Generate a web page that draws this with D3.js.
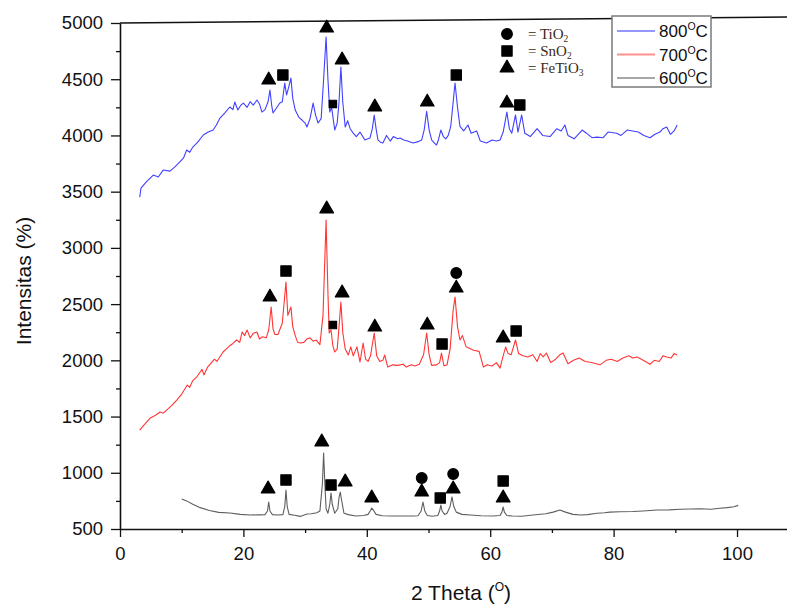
<!DOCTYPE html>
<html>
<head>
<meta charset="utf-8">
<script src="https://cdn.jsdelivr.net/npm/d3@7"></script>
<style>
  html, body { margin: 0; padding: 0; background: #fff; }
  svg { display: block; font-family: "Liberation Sans", Arial, sans-serif; }
</style>
</head>
<body>
<svg id="chart" width="787" height="605"></svg>
<script>
// ---------------- DATA ----------------
const xTicks = [0, 20, 40, 60, 80, 100];
const xMinorTicks = [10, 30, 50, 70, 90];
const yTicks = [500, 1000, 1500, 2000, 2500, 3000, 3500, 4000, 4500, 5000];
const yMinorTicks = [750, 1250, 1750, 2250, 2750, 3250, 3750, 4250, 4750];

const seriesNames = ["800", "700", "600"];

const s800 = [[3.2,3452],[3.4,3532],[4.3,3590],[5.4,3648],[6.2,3630],[7.0,3692],[8.1,3683],[8.9,3720],[9.7,3764],[10.3,3800],[10.8,3870],[11.3,3850],[11.8,3897],[12.6,3940],[13.5,4004],[14.3,4030],[15.1,4048],[15.6,4090],[16.2,4155],[17.0,4200],[17.8,4253],[18.3,4230],[18.6,4297],[19.1,4226],[19.6,4270],[20.0,4288],[20.6,4250],[21.1,4300],[21.6,4270],[22.2,4315],[22.6,4280],[23.0,4208],[23.5,4230],[24.0,4300],[24.3,4404],[24.6,4260],[24.8,4200],[25.3,4240],[25.9,4288],[26.3,4300],[26.7,4465],[27.0,4360],[27.3,4420],[27.7,4510],[28.0,4330],[28.4,4226],[29.0,4160],[29.5,4137],[30.0,4110],[30.3,4075],[30.8,4150],[31.3,4288],[31.7,4180],[32.1,4111],[32.6,4150],[33.0,4500],[33.4,4875],[33.7,4500],[34.0,4208],[34.3,4250],[34.8,4048],[35.2,4110],[35.5,4300],[35.8,4609],[36.1,4300],[36.5,4075],[36.9,4130],[37.3,4060],[37.8,4021],[38.3,3990],[38.9,4030],[39.4,3985],[39.7,3960],[40.5,3977],[40.9,4060],[41.2,4182],[41.5,4060],[41.8,3960],[42.2,3940],[42.6,3933],[43.2,4000],[43.8,3950],[44.3,3990],[45.0,3970],[45.4,3977],[46.0,3960],[46.6,3950],[47.5,3933],[48.3,3945],[48.9,3960],[49.3,4050],[49.7,4215],[50.1,4050],[50.5,3960],[51.0,3930],[51.3,3915],[51.6,3960],[52.0,4048],[52.4,3990],[52.8,3970],[53.2,4000],[53.6,4080],[54.0,4300],[54.3,4466],[54.7,4250],[55.1,4080],[55.7,4040],[56.4,4093],[56.9,4020],[57.8,4040],[58.4,3950],[59.4,3933],[60.3,3960],[61.0,3950],[61.6,3960],[62.1,4030],[62.7,4208],[63.1,4060],[63.5,4020],[64.1,4182],[64.5,4030],[65.1,4182],[65.6,4020],[66.5,3990],[67.6,4060],[68.5,4000],[69.7,3990],[70.8,4060],[71.5,4040],[72.1,4093],[72.6,4000],[73.6,3970],[74.9,4048],[75.6,4020],[76.5,3980],[77.3,3985],[78.3,3980],[79.1,4030],[80.5,4020],[81.2,4000],[82.2,4048],[83.1,4040],[84.0,4030],[84.9,4000],[85.9,3980],[86.7,4010],[87.5,4030],[88.0,4060],[88.6,4075],[89.2,4010],[89.8,4040],[90.3,4093]];

const s700 = [[3.2,1380],[3.8,1420],[4.9,1487],[5.7,1510],[6.5,1540],[7.0,1530],[7.6,1560],[8.4,1600],[9.2,1647],[10.0,1700],[10.9,1780],[11.3,1760],[11.8,1820],[12.4,1850],[13.0,1896],[13.3,1920],[13.6,1870],[14.2,1940],[14.9,1985],[15.3,2010],[15.7,1990],[16.7,2074],[17.2,2100],[17.8,2130],[18.3,2150],[18.9,2181],[19.4,2160],[19.8,2252],[20.2,2220],[20.6,2270],[21.1,2200],[21.6,2240],[22.2,2252],[22.6,2190],[23.1,2210],[23.7,2200],[24.1,2270],[24.5,2474],[24.8,2280],[25.1,2230],[25.6,2230],[26.3,2330],[26.9,2697],[27.2,2400],[27.7,2474],[28.0,2300],[28.4,2220],[28.8,2160],[29.2,2154],[29.8,2160],[30.3,2190],[30.8,2200],[31.3,2170],[31.8,2180],[32.4,2140],[32.9,2400],[33.4,3248],[33.7,2600],[33.9,2243],[34.2,2270],[34.5,2130],[34.8,2074],[35.2,2100],[35.5,2300],[35.8,2519],[36.1,2250],[36.5,2100],[37.0,2047],[37.4,2120],[37.8,2040],[38.4,2120],[38.9,1985],[39.4,2154],[39.8,2010],[40.2,1990],[40.6,2040],[41.2,2243],[41.6,2040],[42.1,1990],[42.6,2000],[42.9,2047],[43.4,1940],[44.2,1960],[45.0,1955],[45.9,1965],[46.4,1940],[47.2,1960],[47.8,1950],[48.5,1965],[49.2,2050],[49.7,2243],[50.1,2050],[50.5,1955],[51.3,1960],[51.8,1980],[52.1,2065],[52.5,1950],[53.0,1960],[53.5,2100],[54.0,2450],[54.3,2563],[54.7,2300],[55.1,2181],[55.5,2220],[56.1,2120],[57.3,2090],[58.2,2080],[58.9,1940],[59.5,1960],[60.3,1950],[61.0,1980],[61.6,1931],[62.0,2020],[62.5,2118],[62.9,2060],[63.4,2050],[64.1,2181],[64.6,2060],[65.3,2040],[66.1,2030],[66.9,2050],[67.6,1990],[68.1,2060],[68.6,2030],[69.1,2065],[69.8,1980],[70.6,2010],[71.3,2050],[71.8,2065],[72.6,1970],[73.5,2000],[74.4,2020],[75.4,1990],[76.4,1980],[77.8,1960],[78.8,2000],[79.6,2010],[80.6,1990],[81.5,2020],[82.5,2040],[83.1,2020],[83.8,2030],[84.8,2000],[85.9,1965],[86.6,2000],[87.4,1990],[88.0,2040],[88.6,2030],[89.3,2020],[89.8,2060],[90.3,2047]];

const s600 = [[10.0,767],[10.8,750],[11.8,720],[13.0,690],[14.5,665],[16.0,648],[17.8,642],[19.5,630],[21.1,624],[22.5,626],[23.5,628],[23.9,660],[24.1,740],[24.3,660],[24.7,628],[25.5,624],[26.4,628],[26.7,700],[26.9,847],[27.1,700],[27.4,630],[28.3,622],[29.2,612],[30.3,633],[31.0,635],[31.9,645],[32.4,660],[32.8,900],[33.0,1176],[33.2,900],[33.4,680],[33.7,640],[34.0,720],[34.2,820],[34.4,720],[34.8,640],[35.3,680],[35.5,780],[35.7,829],[35.9,760],[36.3,640],[37.0,628],[38.2,615],[39.5,620],[40.2,630],[40.6,665],[40.8,687],[41.1,665],[41.5,630],[42.5,618],[44.0,615],[45.9,615],[47.5,615],[48.3,618],[48.8,660],[49.1,740],[49.4,660],[49.8,620],[50.6,614],[51.5,620],[51.8,660],[52.0,713],[52.2,660],[52.6,630],[53.0,640],[53.5,700],[53.8,785],[54.1,700],[54.5,650],[55.4,630],[56.8,624],[58.5,618],[60.5,616],[61.6,620],[61.9,650],[62.1,696],[62.3,650],[62.7,620],[63.6,615],[65.1,614],[66.9,624],[69.0,635],[70.2,650],[71.3,669],[72.2,650],[73.4,630],[74.6,624],[75.8,628],[77.3,640],[78.5,645],[79.4,650],[81.0,653],[83.1,655],[84.8,660],[87.0,669],[89.0,670],[90.8,676],[92.5,678],[94.0,680],[95.8,676],[97.2,685],[98.4,690],[99.5,698],[100.2,710]];

// phase markers: [2theta, intensity, phase] ; T = TiO2, S = SnO2, s = SnO2 (weak), F = FeTiO3
const marks800 = [[24.1,4493,"F"],[26.4,4537,"S"],[33.5,4955,"F"],[34.5,4280,"s"],[36.0,4671,"F"],[41.3,4253,"F"],[49.8,4297,"F"],[54.5,4537,"S"],[62.7,4288,"F"],[64.8,4271,"S"]];
const marks700 = [[24.3,2563,"F"],[26.9,2794,"S"],[33.5,3346,"F"],[34.5,2314,"s"],[36.0,2599,"F"],[41.3,2296,"F"],[49.8,2314,"F"],[52.2,2145,"S"],[54.5,2777,"T"],[54.5,2643,"F"],[62.1,2199,"F"],[64.2,2261,"S"]];
const marks600 = [[24.0,856,"F"],[26.9,936,"S"],[32.7,1274,"F"],[34.2,891,"S"],[36.5,918,"F"],[40.8,776,"F"],[48.9,954,"T"],[48.9,829,"F"],[51.9,776,"S"],[54.0,989,"T"],[54.0,856,"F"],[62.1,927,"S"],[62.1,776,"F"]];

const phaseKeys = ["T", "S", "F"];
const phaseNames = ["TiO", "SnO", "FeTiO"];
const phaseSubs = ["2", "2", "3"];

// ---------------- CHART ----------------
const svg = d3.select("#chart");
const W = 787, H = 605;
const margin = {left: 120, right: 0, top: 23, bottom: 76};

const x = d3.scaleLinear().domain([0, 108.1]).range([margin.left, W - margin.right]);
const y = d3.scaleLinear().domain([500, 5000]).range([H - margin.bottom, margin.top]);

const colors = {"800": "#4040ff", "700": "#ff3535", "600": "#5e5e5e"};
const seriesData = {"800": s800, "700": s700, "600": s600};
const markData = [marks800, marks700, marks600];

// top frame line (slightly tilted in the scan)
svg.append("line")
  .attr("x1", x(0)).attr("y1", y(5000))
  .attr("x2", x(108.1)).attr("y2", y(5000) - 6)
  .attr("stroke", "#111").attr("stroke-width", 1.6);

// traces
const line = d3.line().x(d => x(d[0])).y(d => y(d[1]));
seriesNames.forEach(k => {
  svg.append("path")
    .datum(seriesData[k])
    .attr("fill", "none")
    .attr("stroke", colors[k])
    .attr("stroke-width", 1.1)
    .attr("stroke-linejoin", "round")
    .attr("d", line);
});

// markers
const symType = {T: d3.symbolCircle, S: d3.symbolSquare, s: d3.symbolSquare, F: d3.symbolTriangle};
const symSize = {T: 90, S: 105, s: 55, F: 80};
function sym(code) { return d3.symbol().type(symType[code]).size(symSize[code])(); }

markData.forEach(arr => {
  svg.append("g").selectAll("path")
    .data(arr).join("path")
    .attr("transform", d => `translate(${x(d[0])},${y(d[1])})`)
    .attr("d", d => sym(d[2]))
    .attr("fill", "#000")
    .attr("stroke", "#000")
    .attr("stroke-width", 1.2)
    .attr("stroke-linejoin", "round");
});

// axes
const axisFont = "18.5px";
const xAxis = svg.append("g")
  .attr("transform", `translate(0,${y(500)})`)
  .call(d3.axisBottom(x).tickValues(xTicks).tickFormat(d3.format("d")).tickSize(8).tickSizeOuter(0).tickPadding(10));
xAxis.select(".domain").attr("stroke", "#111").attr("stroke-width", 1.6);
xAxis.selectAll(".tick line").attr("stroke", "#111").attr("stroke-width", 1.3);
xAxis.selectAll("text").style("font-size", axisFont).attr("fill", "#111")
  .style("font-family", "'Liberation Sans', Arial, sans-serif");

const xMinor = svg.append("g")
  .attr("transform", `translate(0,${y(500)})`)
  .call(d3.axisBottom(x).tickValues(xMinorTicks).tickSize(4).tickFormat(""));
xMinor.select(".domain").remove();
xMinor.selectAll(".tick line").attr("stroke", "#111").attr("stroke-width", 1.3);

const yAxis = svg.append("g")
  .attr("transform", `translate(${x(0)},0)`)
  .call(d3.axisLeft(y).tickValues(yTicks).tickFormat(d3.format("d")).tickSize(9).tickSizeOuter(0).tickPadding(8));
yAxis.select(".domain").attr("stroke", "#111").attr("stroke-width", 1.6);
yAxis.selectAll(".tick line").attr("stroke", "#111").attr("stroke-width", 1.3);
yAxis.selectAll("text").style("font-size", axisFont).attr("fill", "#111")
  .style("font-family", "'Liberation Sans', Arial, sans-serif");

const yMinor = svg.append("g")
  .attr("transform", `translate(${x(0)},0)`)
  .call(d3.axisLeft(y).tickValues(yMinorTicks).tickSize(4).tickFormat(""));
yMinor.select(".domain").remove();
yMinor.selectAll(".tick line").attr("stroke", "#111").attr("stroke-width", 1.3);

// axis titles
const xt = svg.append("text")
  .attr("x", 461).attr("y", 600)
  .attr("text-anchor", "middle")
  .style("font-size", "21px").attr("fill", "#111");
xt.append("tspan").text("2 Theta (");
xt.append("tspan").text("O").style("font-size", "12px").attr("dy", -9);
xt.append("tspan").text(")").attr("dy", 9);

svg.append("text")
  .attr("transform", "translate(31,281) rotate(-90)")
  .attr("text-anchor", "middle")
  .style("font-size", "21px").attr("fill", "#111")
  .text("Intensitas (%)");

// series legend
const lg = svg.append("g");
lg.append("rect")
  .attr("x", 612).attr("y", 16).attr("width", 99).attr("height", 71)
  .attr("fill", "#fff").attr("stroke", "#7a7a7a").attr("stroke-width", 1.5);
seriesNames.forEach((k, i) => {
  const yy = 31 + i * 23.5;
  lg.append("line")
    .attr("x1", 617).attr("x2", 655).attr("y1", yy).attr("y2", yy)
    .attr("stroke", colors[k]).attr("stroke-width", 2).attr("stroke-opacity", 0.55);
  const t = lg.append("text").attr("x", 659).attr("y", yy + 6)
    .style("font-size", "17px").attr("fill", "#111");
  t.append("tspan").text(k);
  t.append("tspan").text("O").style("font-size", "10.5px").attr("dy", -7);
  t.append("tspan").text("C").attr("dy", 7);
});

// phase legend
const pg = svg.append("g");
phaseKeys.forEach((k, i) => {
  const yy = 34 + i * 17;
  pg.append("path")
    .attr("transform", `translate(507,${yy})`)
    .attr("d", sym(k))
    .attr("fill", "#000").attr("stroke", "#000").attr("stroke-width", 1.2)
    .attr("stroke-linejoin", "round");
  const t = pg.append("text").attr("x", 528).attr("y", yy + 4.5)
    .style("font-family", "'Liberation Serif', 'Times New Roman', serif")
    .style("font-size", "15px").attr("fill", "#3a2a16");
  t.append("tspan").text("= " + phaseNames[i]);
  t.append("tspan").text(phaseSubs[i]).style("font-size", "9.5px").attr("dy", 3);
});
</script>
</body>
</html>
